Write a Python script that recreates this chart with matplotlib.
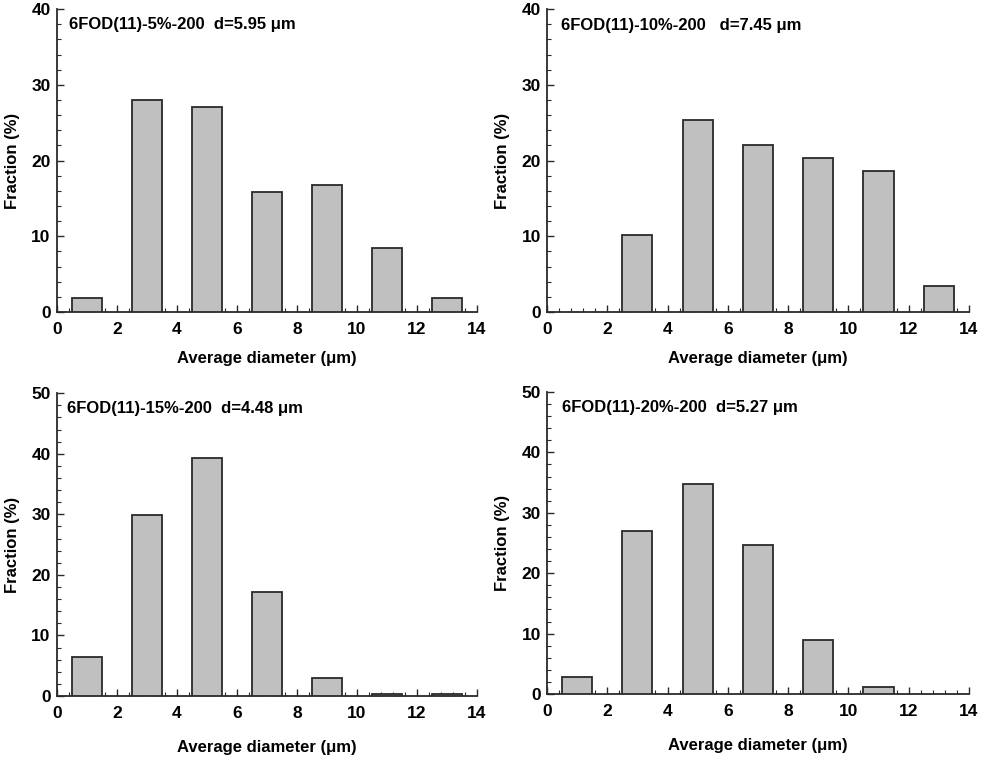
import matplotlib
matplotlib.use("Agg")
import matplotlib.pyplot as plt
from matplotlib.ticker import MultipleLocator

plt.rcParams['font.family'] = ['Liberation Sans', 'DejaVu Sans']
plt.rcParams['font.weight'] = 'bold'

# bin centres (um)
centers = [1, 3, 5, 7, 9, 11, 13]

# fraction (%) per sample
frac_5 = [1.9, 28.0, 27.1, 15.9, 16.8, 8.4, 1.9]
frac_10 = [0.0, 10.1, 25.4, 22.0, 20.3, 18.6, 3.4]
frac_15 = [6.4, 29.9, 39.3, 17.1, 3.0, 0.28, 0.28]
frac_20 = [2.9, 27.0, 34.8, 24.6, 8.9, 1.1, 0.0]

titles = ["6FOD(11)-5%-200  d=5.95 \u03bcm",
          "6FOD(11)-10%-200   d=7.45 \u03bcm",
          "6FOD(11)-15%-200  d=4.48 \u03bcm",
          "6FOD(11)-20%-200  d=5.27 \u03bcm"]
ymaxes = [40, 40, 50, 50]
series = [frac_5, frac_10, frac_15, frac_20]

positions = [
    [0.0581, 0.589, 0.428, 0.399],
    [0.5576, 0.589, 0.430, 0.399],
    [0.0581, 0.083, 0.428, 0.399],
    [0.5576, 0.0856, 0.430, 0.398],
]
text_pos = [(0.029, 0.950), (0.033, 0.945), (0.024, 0.950), (0.036, 0.950)]
xlabel_pads = [10, 10, 13.5, 13.5]

fig = plt.figure(figsize=(9.81, 7.59), dpi=100)

for i in range(4):
    ax = fig.add_axes(positions[i])
    vals = series[i]
    xs = [c for c, v in zip(centers, vals) if v > 0]
    hs = [v for v in vals if v > 0]
    ax.bar(xs, hs, width=1.0, color='#c0c0c0', edgecolor='#2a2a2a',
           linewidth=1.3, zorder=3)
    ax.set_xlim(0, 14)
    ax.set_ylim(0, ymaxes[i])
    ax.xaxis.set_major_locator(MultipleLocator(2))
    ax.xaxis.set_minor_locator(MultipleLocator(0.4))
    ax.yaxis.set_major_locator(MultipleLocator(10))
    ax.yaxis.set_minor_locator(MultipleLocator(2))
    ax.spines['top'].set_visible(False)
    ax.spines['right'].set_visible(False)
    for s in ['left', 'bottom']:
        ax.spines[s].set_linewidth(1.3)
        ax.spines[s].set_color('#2a2a2a')
    ax.tick_params(which='major', direction='in', length=5, width=1.0,
                   labelsize=12.5, pad=4.5, color='#2a2a2a')
    ax.tick_params(axis='x', which='major', pad=7.5)
    ax.tick_params(which='minor', direction='in', length=3, width=0.8,
                   color='#2a2a2a')
    for lab in ax.get_xticklabels() + ax.get_yticklabels():
        lab.set_fontweight('bold')
    ax.set_xlabel("Average diameter (\u03bcm)", fontsize=12, fontweight='bold',
                  labelpad=xlabel_pads[i])
    ax.set_ylabel("Fraction (%)", fontsize=12, fontweight='bold', labelpad=8)
    ax.text(text_pos[i][0], text_pos[i][1], titles[i], transform=ax.transAxes,
            fontsize=12, fontweight='bold', va='center', ha='left')

fig.savefig("out.png", dpi=100)
